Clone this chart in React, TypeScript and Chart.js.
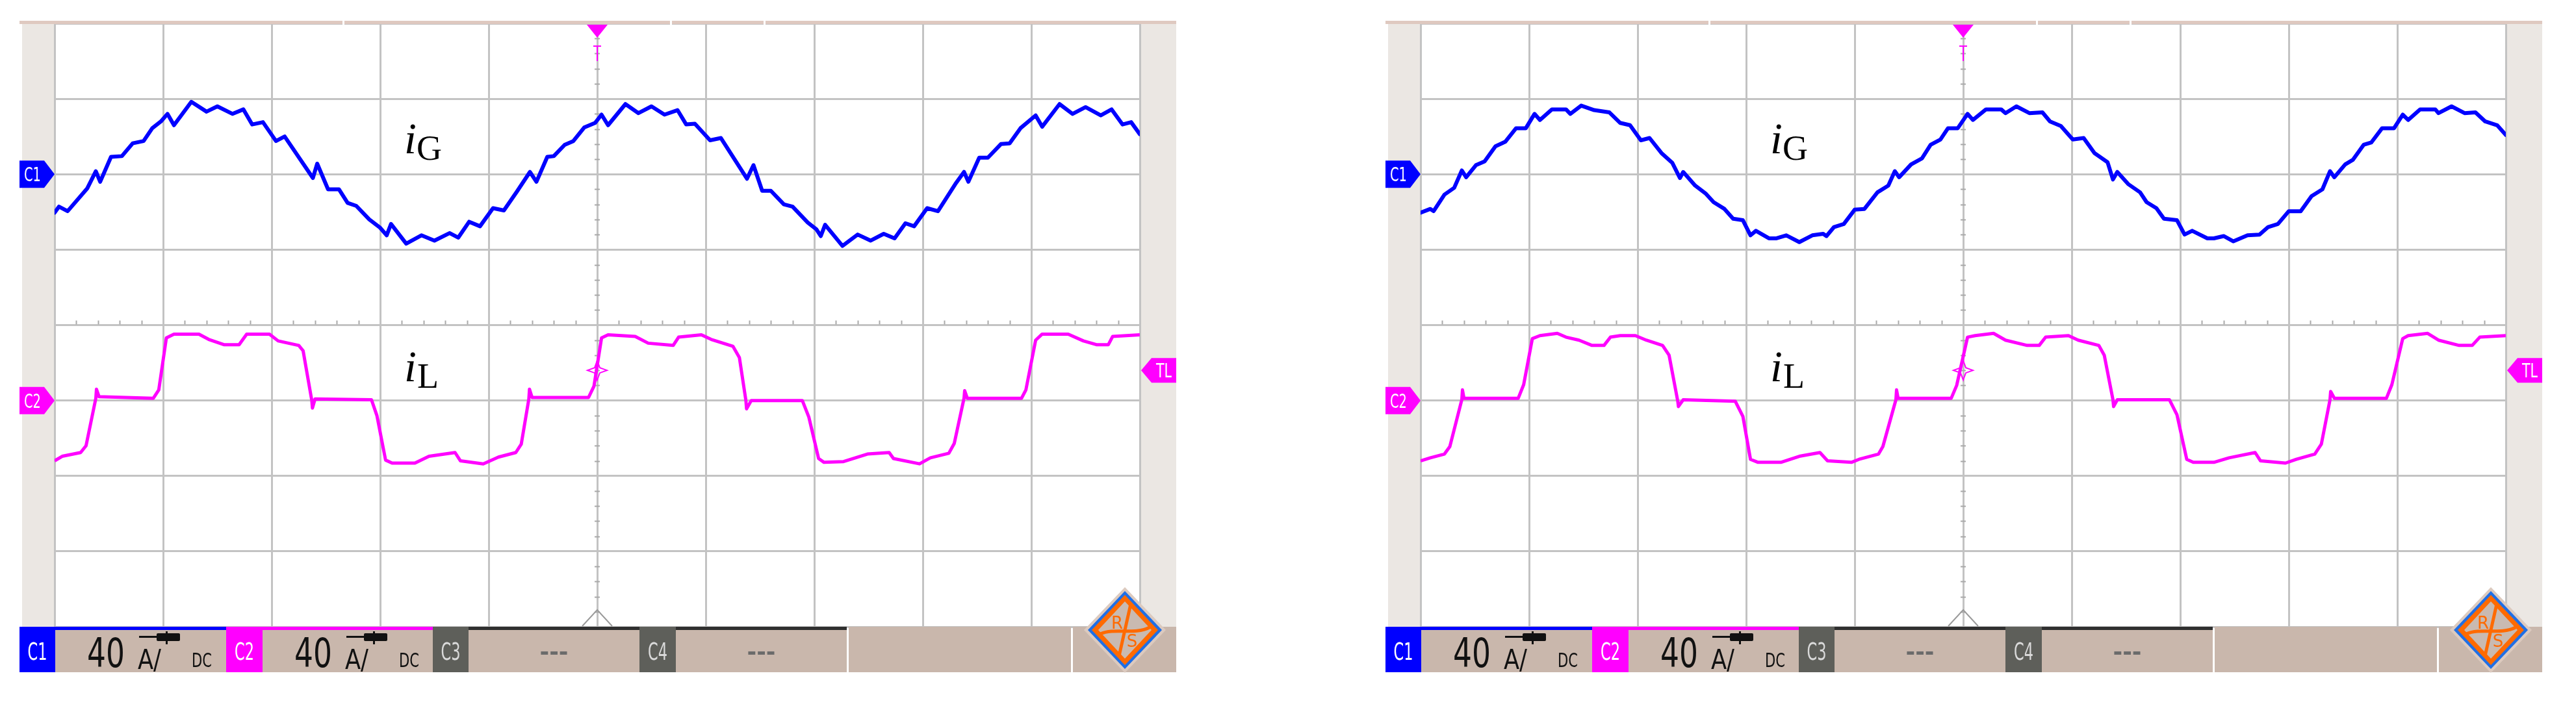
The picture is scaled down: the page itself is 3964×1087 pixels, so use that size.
import React, { useEffect, useRef } from "react";
import { Chart, registerables } from "chart.js";

Chart.register(...registerables);

// ---- Scope settings -------------------------------------------------------
const timeMin = 0; // ms
const timeMax = 50; // ms (10 div x 5 ms/div)
const timeStep = 5; // ms/div
const ampPerDiv = 40; // A/div for both channels
const igAxisRange = [-240, 80]; // C1 zero placed 6 div from the bottom
const ilAxisRange = [-120, 200]; // C2 zero placed 3 div from the bottom
const triggerTimeMs = 25;
const triggerLevelA = 16;

// ---- Waveforms: [time ms, current A] --------------------------------------
const leftIG: [number, number][] = [
  [0, -20.4], [0.2, -17.2], [0.6, -19.6], [1.5, -7.6], [1.9, 1.6], [2.1, -4], [2.6, 9.2], [3.1, 9.6],
  [3.6, 16.4], [4.1, 17.6], [4.5, 24.4], [4.9, 28], [5.2, 32], [5.5, 26], [6.3, 38.4], [7.0, 33.2],
  [7.5, 36], [8.2, 32], [8.7, 34.4], [9.1, 26.4], [9.6, 27.6], [10.2, 17.6], [10.6, 20], [11.9, -2],
  [12.1, 5.6], [12.6, -8], [13.1, -8], [13.5, -15.2], [13.9, -16.8], [14.5, -24], [15.0, -28.4],
  [15.3, -32.4], [15.5, -26.4], [16.2, -36.8], [16.9, -32.4], [17.5, -35.2], [18.2, -31.2], [18.6, -33.6],
  [19.1, -25.2], [19.6, -27.6], [20.2, -18], [20.7, -19.2], [21.3, -9.2], [21.9, 1.2], [22.2, -4],
  [22.7, 9.2], [23.0, 9.6], [23.5, 15.6], [23.9, 17.6], [24.4, 24.8], [24.9, 27.2], [25.2, 31.6],
  [25.5, 26], [26.3, 37.2], [26.9, 32.4], [27.5, 36], [28.1, 31.6], [28.7, 34], [29.1, 26.4], [29.5, 26.8],
  [30.2, 18], [30.7, 19.2], [31.9, -2.4], [32.2, 4.8], [32.6, -8.8], [33.0, -8.8], [33.6, -16], [34.0, -17.2],
  [34.7, -25.6], [35.1, -29.2], [35.3, -32.8], [35.5, -26.8], [36.3, -38], [37.0, -32], [37.6, -35.2],
  [38.2, -31.6], [38.7, -34], [39.2, -26], [39.6, -27.6], [40.2, -18], [40.7, -19.6], [41.5, -5.2],
  [41.9, 1.2], [42.1, -4], [42.6, 8.8], [43.0, 8.8], [43.6, 16], [44.0, 16.4], [44.5, 24.4], [45.2, 31.2],
  [45.5, 25.2], [46.3, 37.2], [46.9, 32], [47.5, 35.6], [48.2, 31.2], [48.7, 34.4], [49.2, 26.4],
  [49.6, 27.6], [50, 21.2],
];

const leftIL: [number, number][] = [
  [0, -32], [0.35, -29.6], [1.2, -27.6], [1.45, -24], [1.9, 1.2], [1.93, 6], [2.05, 2], [4.55, 1.2],
  [4.8, 5.6], [5.15, 33.2], [5.5, 35.2], [6.65, 35.2], [7.1, 32.4], [7.8, 29.6], [8.5, 29.6], [8.85, 35.2],
  [9.9, 35.2], [10.3, 31.6], [11.25, 29.2], [11.45, 26.4], [11.85, 0], [11.88, -4], [12.0, 0.8],
  [14.6, 0.4], [14.85, -8], [15.25, -31.6], [15.55, -33.2], [16.6, -33.2], [17.25, -29.6], [18.45, -27.6],
  [18.7, -32], [19.75, -33.6], [20.45, -30], [21.25, -27.6], [21.5, -23.2], [21.85, 0.8], [21.88, 6],
  [22.0, 1.6], [24.6, 1.6], [24.85, 7.6], [25.2, 33.2], [25.5, 34.8], [26.75, 34], [27.35, 30.4],
  [28.5, 29.2], [28.75, 33.6], [29.8, 34.8], [30.25, 32.4], [31.25, 28.8], [31.55, 22.8], [31.85, 0],
  [31.88, -4.4], [32.1, 0], [34.45, 0], [34.75, -8.8], [35.2, -30.8], [35.45, -32.8], [36.35, -32.4],
  [37.45, -28.4], [38.45, -27.6], [38.65, -30.8], [39.85, -33.6], [40.35, -30.4], [41.2, -28],
  [41.45, -22.8], [41.9, 1.2], [41.93, 5.2], [42.05, 1.2], [44.55, 1.2], [44.75, 5.6], [45.2, 32],
  [45.5, 35.2], [46.7, 35.2], [47.4, 31.6], [48.0, 29.6], [48.55, 29.6], [48.75, 34], [50, 34.8],
];

const rightIG: [number, number][] = [
  [0, -20.4], [0.45, -18.4], [0.6, -19.6], [1.1, -10.8], [1.55, -7.2], [1.9, 2], [2.1, -1.6], [2.55, 4.8],
  [2.95, 6.8], [3.45, 14.8], [3.9, 17.2], [4.4, 24.4], [4.85, 24.4], [5.25, 32], [5.5, 28.8], [6.05, 34.4],
  [6.7, 34.4], [6.9, 32], [7.4, 36.4], [8.0, 34], [8.7, 32.8], [9.2, 27.2], [9.65, 26], [10.15, 18],
  [10.55, 19.2], [11.1, 11.2], [11.6, 6], [11.95, -2], [12.1, 1.2], [12.65, -6], [13.15, -10.4],
  [13.5, -14.8], [14.0, -18.4], [14.4, -23.6], [14.85, -24.4], [15.2, -32.4], [15.45, -30], [16.05, -34],
  [16.4, -34], [16.85, -32.4], [17.45, -36], [18.05, -32.4], [18.55, -31.6], [18.7, -32.8], [19.05, -28],
  [19.5, -26.4], [20.0, -18.8], [20.45, -18.4], [21.05, -9.6], [21.55, -6], [21.85, 1.6], [22.05, -1.6],
  [22.6, 5.2], [23.1, 8.4], [23.5, 15.6], [23.95, 18.4], [24.3, 24.4], [24.75, 24.4], [25.2, 32],
  [25.45, 28.8], [26.05, 34.4], [26.75, 34.4], [26.95, 32.4], [27.45, 36], [28.05, 32.4], [28.65, 32.8],
  [29.0, 28], [29.5, 25.6], [30.05, 18.4], [30.55, 19.2], [31.05, 11.2], [31.65, 6.4], [31.9, -2.8],
  [32.1, 1.2], [32.6, -5.2], [33.15, -9.6], [33.45, -14.8], [33.9, -18], [34.25, -23.6], [34.85, -24.4],
  [35.2, -32], [35.55, -30], [36.25, -34], [36.55, -34], [37.0, -32.8], [37.45, -35.6], [38.1, -32.4],
  [38.65, -32], [39.05, -28], [39.5, -26.4], [40.0, -19.6], [40.55, -19.6], [41.05, -11.6], [41.55, -8],
  [41.9, 1.6], [42.1, -1.6], [42.6, 5.2], [42.95, 7.6], [43.45, 15.6], [43.8, 16.8], [44.3, 24.4],
  [44.85, 24.4], [45.25, 31.6], [45.5, 28.8], [46.05, 34.4], [46.75, 34.4], [46.9, 32.4], [47.5, 36],
  [48.1, 32.4], [48.6, 32.8], [49.05, 28], [49.6, 26], [50, 20.8],
];

const rightIL: [number, number][] = [
  [0, -32], [0.45, -30.4], [1.1, -28.4], [1.35, -24.4], [1.9, 0.4], [1.93, 5.6], [2.0, 1.2], [4.5, 1.2],
  [4.75, 8.4], [5.15, 32.8], [5.5, 34.4], [6.3, 35.6], [6.7, 33.6], [7.3, 32], [7.9, 29.2], [8.45, 29.2],
  [8.75, 33.6], [9.2, 34.4], [9.9, 34.4], [10.4, 32], [11.15, 29.2], [11.45, 24], [11.85, -0.4],
  [11.88, -3.2], [12.1, 0.4], [14.5, -0.4], [14.85, -8.4], [15.2, -31.2], [15.55, -32.8], [16.6, -32.8],
  [17.45, -29.6], [18.4, -27.6], [18.75, -32], [19.85, -32.8], [20.2, -31.2], [21.1, -28.4], [21.3, -24.4],
  [21.9, 0.4], [21.93, 5.6], [22.0, 1.2], [24.45, 1.2], [24.7, 8], [25.2, 33.6], [25.55, 34.4],
  [26.4, 35.6], [26.95, 32], [27.95, 29.2], [28.5, 29.2], [28.8, 33.6], [29.85, 34.4], [30.3, 32],
  [31.25, 29.2], [31.5, 24], [31.9, 0.4], [31.93, -3.2], [32.1, 0.4], [34.5, 0.4], [34.85, -7.6],
  [35.3, -31.2], [35.6, -32.8], [36.55, -32.8], [37.25, -30.4], [38.45, -27.6], [38.7, -32], [39.85, -33.2],
  [40.35, -31.2], [41.2, -28.4], [41.5, -23.2], [41.9, 0.4], [41.93, 4.8], [42.1, 1.2], [44.5, 1.2],
  [44.75, 8.4], [45.25, 32.8], [45.5, 34.4], [46.4, 35.6], [46.9, 32], [47.85, 29.2], [48.45, 29.2],
  [48.8, 33.6], [50, 34.4],
];

// ---- Status bar texts ------------------------------------------------------
const channelNames = ["C1", "C2", "C3", "C4"];
const channelScaleText = ["40", "40", "---", "---"];
const couplingText = "DC";
const unitText = "A/";

// ---- Layout (left panel; right panel is shifted) ----------------------------
const PANEL_SHIFT = 2102;
const PLOT_L = 84;
const PLOT_T = 36;
const PLOT_W = 1670;
const PLOT_H = 929;
const PAD = 4;

const BLUE = "#0000ff";
const MAGENTA = "#ff00ff";
const BEIGE = "#c9b7ac";
const STRIP = "#ebe7e3";
const GRID = "#c3c3c3";
const NARROW = "'Liberation Sans Narrow','DejaVu Sans Condensed','Arial Narrow',sans-serif";
const SERIF = "'Liberation Serif','Times New Roman',serif";

const crossTicks = {
  id: "crossTicks",
  beforeDatasetsDraw(chart: any) {
    const { ctx, chartArea: a, scales } = chart;
    const cx = scales.x.getPixelForValue((timeMin + timeMax) / 2);
    const cy = scales.yG.getPixelForValue(igAxisRange[1] - 4 * ampPerDiv);
    const dx = (a.right - a.left) / 50;
    const dy = (a.bottom - a.top) / 40;
    ctx.save();
    ctx.strokeStyle = "#a9a9a9";
    ctx.lineWidth = 2;
    ctx.beginPath();
    for (let i = 1; i < 50; i++) {
      if (i % 5 === 0) continue;
      const x = Math.round(a.left + i * dx) + 0.5;
      ctx.moveTo(x, cy - 7);
      ctx.lineTo(x, cy - 1);
    }
    for (let j = 1; j < 40; j++) {
      if (j % 5 === 0) continue;
      const y = Math.round(a.top + j * dy) + 0.5;
      ctx.moveTo(cx - 4, y);
      ctx.lineTo(cx + 4, y);
    }
    ctx.stroke();
    ctx.restore();
  },
  afterDatasetsDraw(chart: any) {
    const { ctx, scales } = chart;
    const x = scales.x.getPixelForValue(triggerTimeMs);
    const y = scales.yL.getPixelForValue(triggerLevelA);
    ctx.save();
    ctx.strokeStyle = MAGENTA;
    ctx.lineWidth = 2;
    ctx.beginPath();
    ctx.moveTo(x, y - 15);
    ctx.lineTo(x + 4, y - 4);
    ctx.lineTo(x + 15, y);
    ctx.lineTo(x + 4, y + 4);
    ctx.lineTo(x, y + 15);
    ctx.lineTo(x - 4, y + 4);
    ctx.lineTo(x - 15, y);
    ctx.lineTo(x - 4, y - 4);
    ctx.closePath();
    ctx.stroke();
    ctx.restore();
  },
};

function yOf(value: number, range: number[]) {
  return PLOT_T + ((range[1] - value) / (range[1] - range[0])) * PLOT_H;
}

function Tag({ y, color, text, right }: { y: number; color: string; text: string; right?: boolean }) {
  const h = 21;
  if (!right) {
    return (
      <g>
        <path d={`M30,${y - h} H68 L84,${y} L68,${y + h} H30 Z`} fill={color} />
        <text x={50} y={y + 11} fill="#fff" fontSize={31} fontFamily={NARROW} textAnchor="middle" textLength={26} lengthAdjust="spacingAndGlyphs">{text}</text>
      </g>
    );
  }
  return (
    <g>
      <path d={`M1810,${y - 19} H1772 L1756,${y} L1772,${y + 19} H1810 Z`} fill={color} />
      <text x={1791} y={y + 11} fill="#fff" fontSize={30} fontFamily={NARROW} textAnchor="middle" textLength={24} lengthAdjust="spacingAndGlyphs">{text}</text>
    </g>
  );
}

function StatusBar() {
  const top = 965;
  const bottom = 1035;
  const h = bottom - top;
  const boxes = [
    { x0: 30, x1: 85, fill: BLUE, txt: "#fff" },
    { x0: 348, x1: 404, fill: MAGENTA, txt: "#fff" },
    { x0: 666, x1: 721, fill: "#5e5f5a", txt: "#d9d9d9" },
    { x0: 984, x1: 1040, fill: "#5e5f5a", txt: "#d9d9d9" },
  ];
  const segs = [
    { x0: 85, x1: 348, border: BLUE },
    { x0: 404, x1: 666, border: MAGENTA },
    { x0: 721, x1: 984, border: "#2f2f2f" },
    { x0: 1040, x1: 1303, border: "#2f2f2f" },
  ];
  return (
    <g>
      {segs.map((s, i) => (
        <g key={"s" + i}>
          <rect x={s.x0} y={top} width={s.x1 - s.x0} height={h} fill={BEIGE} />
          <rect x={s.x0} y={top} width={s.x1 - s.x0} height={5} fill={s.border} />
        </g>
      ))}
      <rect x={984} y={top} width={56} height={5} fill="#2f2f2f" />
      <rect x={1306} y={top} width={342} height={h} fill={BEIGE} />
      <rect x={1651} y={top} width={159} height={h} fill={BEIGE} />
      {boxes.map((b, i) => (
        <g key={"b" + i}>
          <rect x={b.x0} y={top} width={b.x1 - b.x0} height={h} fill={b.fill} />
          <text x={(b.x0 + b.x1) / 2} y={1016} fill={b.txt} fontSize={38} fontFamily={NARROW} textAnchor="middle" textLength={30} lengthAdjust="spacingAndGlyphs">{channelNames[i]}</text>
        </g>
      ))}
      {segs.map((s, i) =>
        channelScaleText[i] !== "---" ? (
          <g key={"t" + i}>
            <text x={s.x0 + 49} y={1027} fontSize={62} fontFamily={NARROW} fill="#111" textLength={58} lengthAdjust="spacingAndGlyphs">{channelScaleText[i]}</text>
            <text x={s.x0 + 127} y={1030} fontSize={42} fontFamily={NARROW} fill="#111" textLength={36} lengthAdjust="spacingAndGlyphs">{unitText}</text>
            <rect x={s.x0 + 129} y={979} width={30} height={3} fill="#111" />
            <rect x={s.x0 + 156} y={975} width={36} height={12} rx={2} fill="#111" />
            <rect x={s.x0 + 170} y={972} width={3} height={20} fill="#111" />
            <text x={s.x0 + 210} y={1027} fontSize={31} fontFamily={NARROW} fill="#111" textLength={31} lengthAdjust="spacingAndGlyphs">{couplingText}</text>
          </g>
        ) : (
          <text key={"t" + i} x={(s.x0 + s.x1) / 2} y={1016} fontSize={36} fontWeight="bold" fontFamily={NARROW} fill="#6b6b6b" textAnchor="middle" textLength={44} lengthAdjust="spacingAndGlyphs">---</text>
        )
      )}
    </g>
  );
}

function Logo() {
  return (
    <g transform="translate(1731,970)">
      <polygon points="0,-66 63,0 0,66 -63,0" fill="#dccabf" />
      <polygon points="0,-60 57,0 0,60 -57,0" fill="#1f6fe6" />
      <polygon points="0,-54 51,0 0,54 -51,0" fill="#ff6a00" />
      <polygon points="0,-44 41,0 0,44 -41,0" fill="#c9bab1" />
      <line x1={9} y1={-40} x2={-9} y2={40} stroke="#ff6a00" strokeWidth={5} />
      <path d="M-38,6 C-15,-4 15,8 38,-4" stroke="#ff6a00" strokeWidth={5} fill="none" />
      <text x={-12} y={-2} fontSize={26} fontFamily="'DejaVu Sans',sans-serif" fill="#ff6a00" textAnchor="middle">R</text>
      <text x={11} y={26} fontSize={26} fontFamily="'DejaVu Sans',sans-serif" fill="#ff6a00" textAnchor="middle">S</text>
    </g>
  );
}

function ScopePanel({ shift, ig, il }: { shift: number; ig: [number, number][]; il: [number, number][] }) {
  const ref = useRef<HTMLCanvasElement>(null);

  useEffect(() => {
    if (!ref.current) return;
    const gridCfg = { color: GRID, lineWidth: 3, drawTicks: false };
    const chart = new Chart(ref.current, {
      type: "line",
      data: {
        datasets: [
          {
            label: "iG",
            data: ig.map(([x, y]) => ({ x, y })),
            borderColor: BLUE,
            borderWidth: 6,
            pointRadius: 0,
            tension: 0,
            yAxisID: "yG",
            clip: 0,
            borderJoinStyle: "round",
            borderCapStyle: "round",
          },
          {
            label: "iL",
            data: il.map(([x, y]) => ({ x, y })),
            borderColor: MAGENTA,
            borderWidth: 5,
            pointRadius: 0,
            tension: 0,
            yAxisID: "yL",
            clip: 0,
            borderJoinStyle: "round",
          },
        ],
      },
      options: {
        responsive: false,
        animation: false,
        devicePixelRatio: 1,
        events: [],
        layout: { padding: PAD },
        plugins: { legend: { display: false }, tooltip: { enabled: false }, title: { display: false } },
        scales: {
          x: {
            type: "linear",
            min: timeMin,
            max: timeMax,
            ticks: { display: false, stepSize: timeStep },
            grid: gridCfg,
            border: { display: false },
            afterFit: (s: any) => {
              s.height = 0;
            },
          },
          yG: {
            type: "linear",
            position: "left",
            min: igAxisRange[0],
            max: igAxisRange[1],
            ticks: { display: false, stepSize: ampPerDiv },
            grid: gridCfg,
            border: { display: false },
            afterFit: (s: any) => {
              s.width = 0;
            },
          },
          yL: {
            type: "linear",
            display: false,
            min: ilAxisRange[0],
            max: ilAxisRange[1],
          },
        },
      },
      plugins: [crossTicks],
    } as any);
    return () => chart.destroy();
  }, [ig, il]);

  const c1y = yOf(0, igAxisRange);
  const c2y = yOf(0, ilAxisRange);
  const tly = yOf(triggerLevelA, ilAxisRange);
  const cx = PLOT_L + PLOT_W / 2;

  return (
    <div style={{ position: "absolute", left: shift, top: 0, width: 1830, height: 1087 }}>
      <canvas
        ref={ref}
        width={PLOT_W + 2 * PAD}
        height={PLOT_H + 2 * PAD}
        style={{ position: "absolute", left: PLOT_L - PAD, top: PLOT_T - PAD, width: PLOT_W + 2 * PAD, height: PLOT_H + 2 * PAD }}
      />
      <svg width={1830} height={1087} style={{ position: "absolute", left: 0, top: 0, pointerEvents: "none" }}>
        {/* top bar */}
        <rect x={30} y={32} width={1780} height={5} fill="#dfc9c0" />
        {[527, 1031, 1175].map((gx) => (
          <rect key={gx} x={gx} y={31} width={3} height={7} fill="#fff" />
        ))}
        {/* side strips */}
        <rect x={34} y={37} width={49} height={928} fill={STRIP} />
        <rect x={1756} y={37} width={54} height={928} fill={STRIP} />
        {/* trigger position marker */}
        <path d={`M${cx - 16},38 L${cx + 16},38 L${cx},58 Z`} fill={MAGENTA} />
        <path d={`M${cx - 6},71 H${cx + 6} M${cx},71 V94`} stroke={MAGENTA} strokeWidth={2} fill="none" />
        <path d={`M${cx - 23},964 L${cx},939 L${cx + 23},964`} stroke="#9a9a9a" strokeWidth={2} fill="none" />
        {/* channel tags */}
        <Tag y={c1y} color={BLUE} text="C1" />
        <Tag y={c2y} color={MAGENTA} text="C2" />
        <Tag y={tly} color={MAGENTA} text="TL" right />
        {/* signal labels */}
        <text x={622} y={236} fontFamily={SERIF} fontStyle="italic" fontSize={68} fill="#000">i</text>
        <text x={641} y={246} fontFamily={SERIF} fontSize={54} fill="#000">G</text>
        <text x={622} y={587} fontFamily={SERIF} fontStyle="italic" fontSize={68} fill="#000">i</text>
        <text x={642} y={597} fontFamily={SERIF} fontSize={54} fill="#000">L</text>
        <StatusBar />
        <Logo />
      </svg>
    </div>
  );
}

export default function App() {
  return (
    <div style={{ position: "absolute", left: 0, top: 0, width: 3964, height: 1087, background: "#fff", overflow: "hidden" }}>
      <ScopePanel shift={0} ig={leftIG} il={leftIL} />
      <ScopePanel shift={PANEL_SHIFT} ig={rightIG} il={rightIL} />
    </div>
  );
}
